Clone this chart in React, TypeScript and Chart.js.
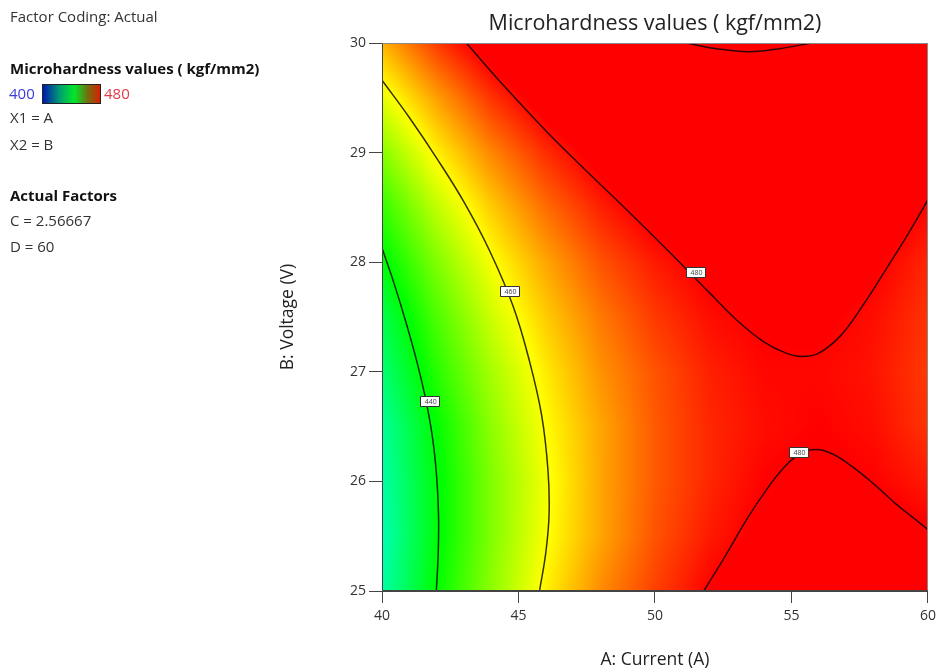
import React, { useEffect, useRef } from 'react';
import { Chart, registerables } from 'chart.js';

Chart.register(...registerables);

// ---------- data ----------
const TITLE = 'Microhardness values ( kgf/mm2)';
const X_TITLE = 'A: Current (A)';
const Y_TITLE = 'B: Voltage (V)';
const X_MIN = 40, X_MAX = 60, X_STEP = 5;
const Y_MIN = 25, Y_MAX = 30, Y_STEP = 1;
const LEGEND_MIN = 400, LEGEND_MAX = 480;

// response grid (A columns x B rows)
const A_GRID = [40, 42, 44, 46, 48, 50, 52, 54, 56, 58, 60];
const B_GRID = [25, 25.5, 26, 26.5, 27, 27.5, 28, 28.5, 29, 29.5, 30];
const hardness_B25_0 = [427, 440, 451, 461, 469, 475, 480, 484, 485.5, 485.5, 484];
const hardness_B25_5 = [426, 439, 450, 459.5, 467, 473.5, 478, 481, 482.5, 482.5, 480.5];
const hardness_B26_0 = [427, 439, 450, 459, 467, 473, 477, 480, 481, 480, 478];
const hardness_B26_5 = [428, 440, 451, 460, 467, 473, 477, 479, 480, 479, 476];
const hardness_B27_0 = [431, 443, 453, 461.5, 468.5, 473.5, 477.5, 479.5, 479.5, 478.5, 475.5];
const hardness_B27_5 = [434, 446, 456, 464, 470.5, 475.5, 479, 480.5, 480.5, 479, 476];
const hardness_B28_0 = [439, 450, 459.5, 467, 473.5, 478, 481, 482.5, 482.5, 480.5, 477];
const hardness_B28_5 = [444, 455, 464, 471.5, 477.5, 482, 484.5, 485.5, 485.5, 483.5, 479.5];
const hardness_B29_0 = [450.5, 461, 469.5, 476.5, 482, 486, 489, 489.5, 489, 487, 483];
const hardness_B29_5 = [458, 467.5, 476, 482.5, 488, 491.5, 494, 494.5, 494, 491.5, 488];
const hardness_B30_0 = [466, 475.5, 483, 489.5, 494.5, 498, 500, 500.5, 500, 497.5, 493.5];
const HARDNESS_ROWS = [
  hardness_B25_0, hardness_B25_5, hardness_B26_0, hardness_B26_5, hardness_B27_0, hardness_B27_5,
  hardness_B28_0, hardness_B28_5, hardness_B29_0, hardness_B29_5, hardness_B30_0,
];

// contour lines
const c440_A = [40.0, 40.45, 40.88, 41.27, 41.6, 41.85, 42.0, 42.07, 42.06, 41.99];
const c440_B = [28.13, 27.8, 27.45, 27.1, 26.75, 26.4, 26.05, 25.7, 25.35, 25.0];
const c460_A = [40.0, 41.0, 42.0, 43.0, 43.95, 44.8, 45.4, 45.85, 46.08, 46.12, 46.0, 45.77];
const c460_B = [29.66, 29.32, 28.95, 28.55, 28.1, 27.6, 27.1, 26.6, 26.1, 25.7, 25.35, 25.0];
const c480u_A = [43.09, 44.5, 46.0, 47.5, 49.0, 50.5, 52.0, 53.0, 54.0, 54.8, 55.4, 56.0, 56.8, 57.6, 58.5, 59.3, 60.0];
const c480u_B = [30.0, 29.6, 29.2, 28.83, 28.47, 28.1, 27.72, 27.47, 27.27, 27.17, 27.14, 27.17, 27.33, 27.6, 27.95, 28.27, 28.57];
const c480l_A = [51.79, 52.6, 53.4, 54.1, 54.7, 55.3, 55.9, 56.5, 57.2, 58.0, 58.8, 59.5, 60.0];
const c480l_B = [25.0, 25.33, 25.67, 25.93, 26.12, 26.25, 26.29, 26.25, 26.14, 25.98, 25.8, 25.66, 25.56];
const c500_A = [51.17, 52.2, 53.43, 54.6, 55.73];
const c500_B = [30.0, 29.95, 29.92, 29.95, 30.0];
const CONTOURS_A = [c440_A, c460_A, c480u_A, c480l_A, c500_A];
const CONTOURS_B = [c440_B, c460_B, c480u_B, c480l_B, c500_B];

// contour labels
const LABEL_TEXT = ['440', '460', '480', '480'];
const LABEL_A = [41.75, 44.67, 51.48, 55.26];
const LABEL_B = [26.73, 27.74, 27.91, 26.27];

// side panel text
const SIDE_LINES = [
  { text: 'Factor Coding: Actual', bold: false, top: 6 },
  { text: 'Microhardness values ( kgf/mm2)', bold: true, top: 58 },
  { text: 'X1 = A', bold: false, top: 107 },
  { text: 'X2 = B', bold: false, top: 134 },
  { text: 'Actual Factors', bold: true, top: 185 },
  { text: 'C = 2.56667', bold: false, top: 210 },
  { text: 'D = 60', bold: false, top: 236 },
];

const FONT = "'Open Sans', 'Noto Sans', sans-serif";

// ---------- helpers ----------
function colorFor(v: number): [number, number, number] {
  let t = (LEGEND_MAX - v) / (LEGEND_MAX - LEGEND_MIN);
  if (t < 0) t = 0;
  if (t > 1) t = 1;
  const h = 240 * t; // hue: 0 red ... 240 blue
  const hp = h / 60;
  const x = 1 - Math.abs((hp % 2) - 1);
  let r = 0, g = 0, b = 0;
  if (hp < 1) { r = 1; g = x; }
  else if (hp < 2) { r = x; g = 1; }
  else if (hp < 3) { g = 1; b = x; }
  else { g = x; b = 1; }
  return [Math.round(r * 255), Math.round(g * 255), Math.round(b * 255)];
}

function locate(grid: number[], v: number): [number, number] {
  const n = grid.length;
  if (v <= grid[0]) return [0, 0];
  if (v >= grid[n - 1]) return [n - 2, 1];
  for (let i = 0; i < n - 1; i++) {
    if (v <= grid[i + 1]) return [i, (v - grid[i]) / (grid[i + 1] - grid[i])];
  }
  return [n - 2, 1];
}

const heatmapPlugin = {
  id: 'heatmap',
  beforeDatasetsDraw(chart: any) {
    const { ctx, chartArea, scales } = chart;
    const xs = scales.x, ys = scales.y;
    const left = Math.round(chartArea.left), top = Math.round(chartArea.top);
    const w = Math.round(chartArea.right) - left;
    const h = Math.round(chartArea.bottom) - top;
    if (w <= 0 || h <= 0) return;
    const off = document.createElement('canvas');
    off.width = w; off.height = h;
    const octx = off.getContext('2d')!;
    const img = octx.createImageData(w, h);
    const colIdx: number[] = [], colFr: number[] = [];
    for (let i = 0; i < w; i++) {
      const [ia, fa] = locate(A_GRID, xs.getValueForPixel(left + i + 0.5));
      colIdx.push(ia); colFr.push(fa);
    }
    for (let j = 0; j < h; j++) {
      const [ib, fb] = locate(B_GRID, ys.getValueForPixel(top + j + 0.5));
      const r0 = HARDNESS_ROWS[ib], r1 = HARDNESS_ROWS[ib + 1];
      for (let i = 0; i < w; i++) {
        const ia = colIdx[i], fa = colFr[i];
        const v0 = r0[ia] * (1 - fa) + r0[ia + 1] * fa;
        const v1 = r1[ia] * (1 - fa) + r1[ia + 1] * fa;
        const v = v0 * (1 - fb) + v1 * fb;
        const [r, g, b] = colorFor(v);
        const k = (j * w + i) * 4;
        img.data[k] = r; img.data[k + 1] = g; img.data[k + 2] = b; img.data[k + 3] = 255;
      }
    }
    octx.putImageData(img, 0, 0);
    ctx.drawImage(off, left, top);
  },
  afterDatasetsDraw(chart: any) {
    const { ctx, chartArea, scales } = chart;
    const xs = scales.x, ys = scales.y;
    // contour labels
    ctx.save();
    ctx.font = `7px ${FONT}`;
    ctx.textAlign = 'center';
    ctx.textBaseline = 'middle';
    for (let i = 0; i < LABEL_TEXT.length; i++) {
      const px = xs.getPixelForValue(LABEL_A[i]);
      const py = ys.getPixelForValue(LABEL_B[i]);
      const bw = 19, bh = 10;
      ctx.fillStyle = '#ffffff';
      ctx.strokeStyle = '#333333';
      ctx.lineWidth = 1;
      ctx.beginPath();
      ctx.rect(Math.round(px - bw / 2) + 0.5, Math.round(py - bh / 2) + 0.5, bw, bh);
      ctx.fill();
      ctx.stroke();
      ctx.fillStyle = '#444444';
      ctx.fillText(LABEL_TEXT[i], px + 1, py + 1);
    }
    // frame
    const l = Math.round(chartArea.left) + 0.5, t = Math.round(chartArea.top) + 0.5;
    const r = Math.round(chartArea.right) - 0.5, b = Math.round(chartArea.bottom) - 0.5;
    ctx.lineWidth = 1;
    ctx.strokeStyle = '#8a8a8a';
    ctx.beginPath();
    ctx.moveTo(l, t); ctx.lineTo(r, t); ctx.lineTo(r, b);
    ctx.stroke();
    ctx.strokeStyle = '#444444';
    ctx.beginPath();
    ctx.moveTo(l, t); ctx.lineTo(l, b); ctx.lineTo(r, b);
    ctx.stroke();
    ctx.restore();
  },
};

export default function App() {
  const canvasRef = useRef<HTMLCanvasElement | null>(null);

  useEffect(() => {
    const canvas = canvasRef.current;
    if (!canvas) return;
    Chart.defaults.font.family = FONT;
    const datasets = CONTOURS_A.map((as, k) => ({
      data: as.map((a, i) => ({ x: a, y: CONTOURS_B[k][i] })),
      showLine: true,
      borderColor: 'rgba(0,0,0,0.8)',
      borderWidth: 1.5,
      pointRadius: 0,
      pointHoverRadius: 0,
      tension: 0.4,
      fill: false,
    }));
    const tickFont = { family: FONT, size: 14 };
    const chart = new Chart(canvas, {
      type: 'scatter',
      data: { datasets },
      options: {
        animation: false,
        responsive: false,
        maintainAspectRatio: false,
        events: [],
        layout: { padding: { left: 275, right: 11, top: 0, bottom: 0 } },
        plugins: {
          legend: { display: false },
          tooltip: { enabled: false },
          title: {
            display: true,
            text: TITLE,
            fullSize: false,
            color: '#222222',
            font: { family: FONT, size: 21.5, weight: 'normal', lineHeight: 1.2 },
            padding: { top: 11, bottom: 6.2 },
          },
        },
        scales: {
          x: {
            type: 'linear',
            position: 'bottom',
            min: X_MIN,
            max: X_MAX,
            ticks: { stepSize: X_STEP, font: tickFont, color: '#333333', padding: 5, maxRotation: 0 },
            grid: { drawOnChartArea: false, drawTicks: true, tickLength: 12, color: '#444444' },
            border: { display: true, color: '#444444' },
            title: { display: true, text: X_TITLE, color: '#222222', font: { family: FONT, size: 17.5, lineHeight: 1.2 }, padding: { top: 0, bottom: 0.5 } },
            afterFit: (s: any) => { s.height = 80; },
          },
          y: {
            type: 'linear',
            position: 'left',
            min: Y_MIN,
            max: Y_MAX,
            ticks: { stepSize: Y_STEP, font: tickFont, color: '#333333', padding: 3 },
            grid: { drawOnChartArea: false, drawTicks: true, tickLength: 13, color: '#444444' },
            border: { display: true, color: '#444444' },
            title: { display: true, text: Y_TITLE, color: '#222222', font: { family: FONT, size: 17.5, lineHeight: 1.2 }, padding: { top: 2.5, bottom: 0 } },
            afterFit: (s: any) => { s.width = 107; },
          },
        },
      } as any,
      plugins: [heatmapPlugin],
    });
    return () => chart.destroy();
  }, []);

  const textStyle = (bold: boolean, top: number): React.CSSProperties => ({
    position: 'absolute',
    left: 10,
    top,
    fontFamily: FONT,
    fontSize: 15,
    lineHeight: '20px',
    fontWeight: bold ? 700 : 400,
    color: bold ? '#111111' : '#333333',
    whiteSpace: 'nowrap',
  });

  return (
    <div style={{ position: 'absolute', left: 0, top: 0, width: 941, height: 671, background: '#ffffff', overflow: 'hidden' }}>
      <canvas ref={canvasRef} width={941} height={671} style={{ position: 'absolute', left: 0, top: 0, width: 941, height: 671 }} />
      {SIDE_LINES.map((l, i) => (
        <div key={i} style={textStyle(l.bold, l.top)}>{l.text}</div>
      ))}
      <div style={{ ...textStyle(false, 83), left: 9, color: '#3a3adc' }}>{String(LEGEND_MIN)}</div>
      <div
        style={{
          position: 'absolute', left: 42, top: 84, width: 57, height: 18,
          border: '1px solid #222',
          background: 'linear-gradient(to right, #0018b0 0%, #00a070 30%, #00e828 55%, #707010 78%, #d82000 100%)',
        }}
      />
      <div style={{ ...textStyle(false, 83), left: 104, color: '#e03a48' }}>{String(LEGEND_MAX)}</div>
    </div>
  );
}
